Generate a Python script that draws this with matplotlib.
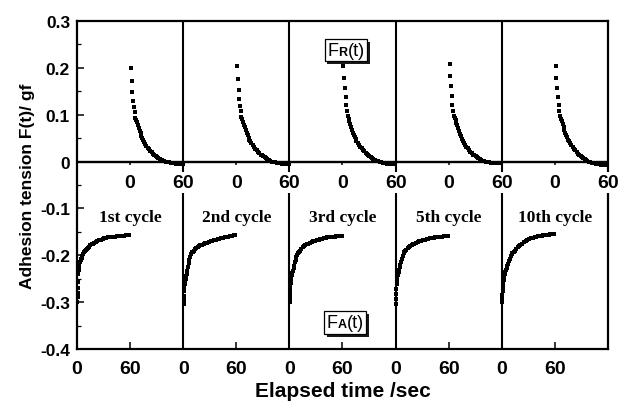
import matplotlib.pyplot as plt
import numpy as np
from matplotlib.offsetbox import TextArea, HPacker, AnnotationBbox
from matplotlib import patheffects as pe

# cycle panels, each one is 60 s advancing + 60 s receding
cycles = ["1st cycle", "2nd cycle", "3rd cycle", "5th cycle", "10th cycle"]
span = 120

# advancing branch F_A(t)
t_adv = [0.4, 0.6, 0.8, 1.0, 1.2, 1.5, 1.8, 2.3, 2.8, 3.4, 4.0, 4.7, 5.4, 6.2, 7.0,
         8.0, 9.0, 10, 11, 12, 13.5, 15, 16.5, 18, 19.5, 21, 23, 25, 27, 29, 31,
         33, 35, 37, 39, 41, 43, 45, 47, 49, 51, 53, 55, 57, 59]
fa_1 = [-0.300, -0.290, -0.280, -0.270, -0.258, -0.240, -0.231, -0.226, -0.220, -0.215,
        -0.211, -0.208, -0.205, -0.201, -0.197, -0.194, -0.191, -0.188, -0.186, -0.184,
        -0.182, -0.179, -0.177, -0.175, -0.173, -0.172, -0.170, -0.168, -0.167, -0.165,
        -0.164, -0.163, -0.162, -0.161, -0.161, -0.160, -0.160, -0.159, -0.159, -0.158,
        -0.158, -0.158, -0.157, -0.157, -0.157]
fa_2 = [-0.304, -0.295, -0.286, -0.277, -0.268, -0.262, -0.257, -0.253, -0.250, -0.245,
        -0.240, -0.234, -0.226, -0.217, -0.210, -0.203, -0.198, -0.194, -0.192, -0.190,
        -0.187, -0.185, -0.183, -0.181, -0.179, -0.178, -0.176, -0.174, -0.173, -0.171,
        -0.170, -0.169, -0.168, -0.167, -0.166, -0.165, -0.164, -0.163, -0.162, -0.161,
        -0.160, -0.159, -0.158, -0.157, -0.156]
fa_3 = [-0.300, -0.292, -0.284, -0.276, -0.268, -0.260, -0.253, -0.247, -0.242, -0.238,
        -0.234, -0.228, -0.222, -0.215, -0.210, -0.204, -0.200, -0.196, -0.193, -0.190,
        -0.186, -0.183, -0.181, -0.179, -0.177, -0.176, -0.174, -0.172, -0.170, -0.169,
        -0.168, -0.167, -0.166, -0.165, -0.164, -0.163, -0.162, -0.161, -0.161, -0.160,
        -0.160, -0.159, -0.159, -0.158, -0.158]
fa_5 = [-0.304, -0.294, -0.283, -0.272, -0.262, -0.254, -0.248, -0.243, -0.239, -0.235,
        -0.231, -0.226, -0.220, -0.214, -0.208, -0.201, -0.196, -0.193, -0.190, -0.188,
        -0.185, -0.182, -0.180, -0.178, -0.176, -0.175, -0.173, -0.171, -0.170, -0.169,
        -0.168, -0.167, -0.166, -0.165, -0.164, -0.163, -0.163, -0.162, -0.161, -0.161,
        -0.160, -0.160, -0.159, -0.159, -0.158]
fa_10 = [-0.300, -0.292, -0.284, -0.276, -0.268, -0.262, -0.257, -0.252, -0.247, -0.241,
         -0.236, -0.231, -0.227, -0.223, -0.219, -0.213, -0.207, -0.202, -0.198, -0.196,
         -0.193, -0.190, -0.186, -0.183, -0.180, -0.178, -0.175, -0.172, -0.170, -0.168,
         -0.166, -0.164, -0.163, -0.161, -0.160, -0.159, -0.158, -0.158, -0.157, -0.157,
         -0.156, -0.156, -0.155, -0.155, -0.154]

# receding branch F_R(t)
t_rec = [1, 1.8, 2.6, 3.4, 4.2, 5.0, 5.8, 6.8, 7.8, 8.8, 9.8, 10.8, 11.8, 12.8, 13.8,
         14.8, 15.8, 17, 18.5, 20, 21.5, 23, 24.5, 26, 27.5, 29, 30.5, 32, 33.5, 35,
         36.5, 38, 40, 42, 44, 46, 48, 50, 52, 54, 56, 58, 59.5]
fr_1 = [0.200, 0.172, 0.149, 0.130, 0.116, 0.105, 0.094, 0.089, 0.084, 0.078, 0.072,
        0.066, 0.060, 0.055, 0.050, 0.046, 0.042, 0.038, 0.034, 0.030, 0.026, 0.023,
        0.020, 0.017, 0.014, 0.012, 0.010, 0.008, 0.006, 0.004, 0.003, 0.001, 0.000,
        -0.001, -0.002, -0.003, -0.004, -0.004, -0.005, -0.005, -0.005, -0.005, -0.006]
fr_2 = [0.204, 0.176, 0.153, 0.134, 0.119, 0.107, 0.096, 0.090, 0.085, 0.079, 0.073,
        0.067, 0.061, 0.056, 0.051, 0.047, 0.043, 0.039, 0.035, 0.031, 0.027, 0.024,
        0.021, 0.018, 0.015, 0.013, 0.011, 0.009, 0.007, 0.005, 0.003, 0.002, 0.000,
        -0.001, -0.002, -0.003, -0.004, -0.004, -0.005, -0.005, -0.005, -0.006, -0.006]
fr_3 = [0.204, 0.178, 0.156, 0.137, 0.121, 0.108, 0.097, 0.091, 0.086, 0.080, 0.074,
        0.068, 0.062, 0.057, 0.052, 0.048, 0.044, 0.040, 0.036, 0.032, 0.028, 0.025,
        0.022, 0.019, 0.016, 0.014, 0.012, 0.010, 0.008, 0.006, 0.004, 0.002, 0.001,
        -0.001, -0.002, -0.003, -0.004, -0.005, -0.005, -0.006, -0.006, -0.006, -0.006]
fr_5 = [0.208, 0.182, 0.161, 0.139, 0.121, 0.107, 0.097, 0.092, 0.088, 0.083, 0.078,
        0.071, 0.065, 0.059, 0.054, 0.049, 0.044, 0.039, 0.035, 0.031, 0.028, 0.024,
        0.021, 0.018, 0.015, 0.013, 0.011, 0.009, 0.007, 0.005, 0.004, 0.002, 0.001,
        0.000, -0.001, -0.002, -0.003, -0.003, -0.004, -0.004, -0.004, -0.004, -0.004]
fr_10 = [0.204, 0.178, 0.157, 0.137, 0.120, 0.107, 0.097, 0.091, 0.086, 0.080, 0.074,
         0.068, 0.062, 0.057, 0.052, 0.047, 0.043, 0.039, 0.035, 0.031, 0.027, 0.024,
         0.020, 0.017, 0.014, 0.012, 0.010, 0.008, 0.006, 0.004, 0.002, 0.000, -0.002,
         -0.003, -0.004, -0.005, -0.006, -0.006, -0.007, -0.007, -0.007, -0.007, -0.007]

adv = [fa_1, fa_2, fa_3, fa_5, fa_10]
rec = [fr_1, fr_2, fr_3, fr_5, fr_10]

sans = ["Liberation Sans", "DejaVu Sans"]
serif = ["Liberation Serif", "DejaVu Serif"]

fig = plt.figure(figsize=(6.18, 4.02), dpi=100)
ax = fig.add_axes([0.1246, 0.1294, 0.8592, 0.8159])
ax.set_xlim(0, span * len(cycles))
ax.set_ylim(-0.4, 0.3)

for i, name in enumerate(cycles):
    x0 = i * span
    ax.plot(x0 + np.array(t_adv), adv[i], "s", color="black", ms=2.6, mew=0)
    ax.plot(x0 + 60 + np.array(t_rec), rec[i], "s", color="black", ms=2.6, mew=0)
    if i > 0:
        ax.axvline(x0, color="black", lw=1.5, zorder=1)
    ax.text(x0 + 60, -0.118, name, ha="center", va="center", fontsize=12.5,
            fontweight="bold", family=serif)
    # receding time labels sitting on the zero line
    ax.vlines(x0 + 60, -0.008, 0, color="black", lw=1.1)
    ax.text(x0 + 60, -0.045, "0", ha="center", va="center", fontsize=14,
            fontweight="bold", family=sans)
    ax.text(x0 + span, -0.045, "60", ha="center", va="center", fontsize=14,
            fontweight="bold", family=sans, clip_on=False, zorder=5,
            bbox=dict(facecolor="white", edgecolor="none", pad=1.5))

ax.axhline(0, color="black", lw=1.7, zorder=1)

# bottom axis: 0 / 60 for the advancing branch of every cycle
xt = [i * span + s for i in range(len(cycles)) for s in (0, 60)]
ax.set_xticks(xt)
ax.set_xticklabels(["0" if k % 2 == 0 else "60" for k in range(len(xt))],
                   fontsize=14, fontweight="bold", family=sans)
ax.set_yticks(np.arange(-0.4, 0.31, 0.1))
ax.set_yticklabels(["-0.4", "-0.3", "-0.2", "-0.1", "0", "0.1", "0.2", "0.3"],
                   fontsize=12.5, fontweight="bold", family=sans)
ax.set_yticks(np.arange(-0.35, 0.3, 0.1), minor=True)
ax.tick_params(axis="both", which="major", direction="in", length=5, width=1.1)
ax.tick_params(axis="y", which="minor", direction="in", length=3, width=0.9)
ax.tick_params(axis="x", pad=8)
ax.tick_params(axis="y", pad=5)
for sp in ax.spines.values():
    sp.set_linewidth(1.6)

ax.set_xlabel("Elapsed time /sec", fontsize=15, fontweight="bold", family=sans, labelpad=3)
ax.set_ylabel("Adhesion tension F(t)/ gf", fontsize=12.5, fontweight="bold",
              family=sans, labelpad=4)


def boxed(sub, xy):
    parts = [TextArea("F", textprops=dict(fontsize=13, family=sans)),
             TextArea(sub, textprops=dict(fontsize=9, fontweight="bold", family=sans)),
             TextArea("(t)", textprops=dict(fontsize=13, family=sans))]
    pack = HPacker(children=parts, align="baseline", pad=0, sep=0)
    ab = AnnotationBbox(pack, xy, xycoords="data", frameon=True, pad=0.2,
                        box_alignment=(0.5, 0.5), zorder=6)
    ab.patch.set_edgecolor("black")
    ab.patch.set_linewidth(0.9)
    ab.patch.set_path_effects([pe.SimplePatchShadow(offset=(2, -2), shadow_rgbFace="black",
                                                    alpha=0.9), pe.Normal()])
    ax.add_artist(ab)


boxed("R", (304, 0.238))
boxed("A", (303, -0.344))

fig.savefig("out.png", dpi=100)
